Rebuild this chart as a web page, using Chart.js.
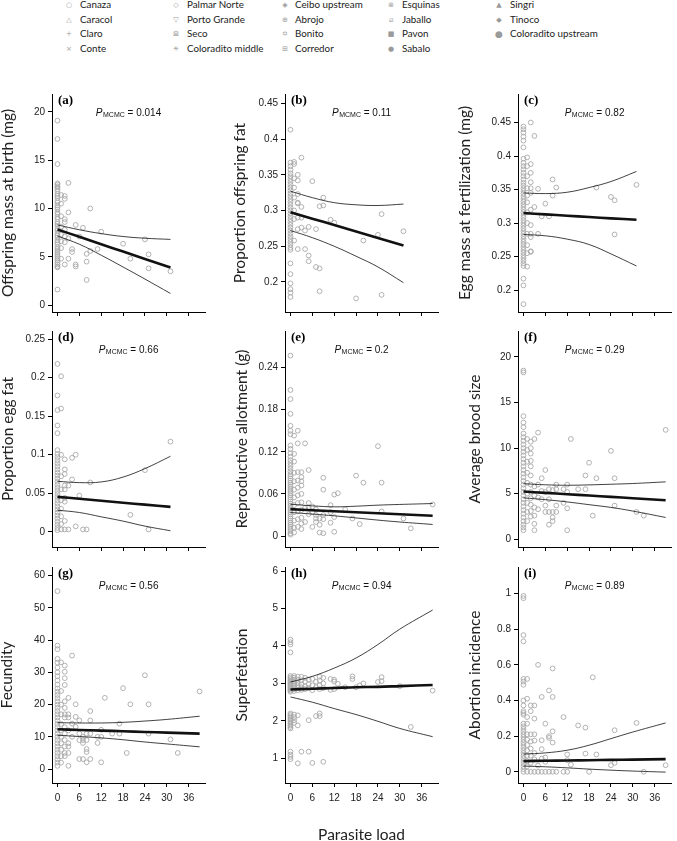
<!DOCTYPE html>
<html>
<head>
<meta charset="utf-8">
<script src="https://cdn.jsdelivr.net/npm/chart.js@4.4.1/dist/chart.umd.min.js"></script>
<style>
  html, body { margin: 0; padding: 0; background: #fff; overflow: hidden; width: 677px; height: 841px; }
  body { position: relative; }
  .sym { position: absolute; font-family: "DejaVu Sans"; font-size: 7px; color: #9a9a9a; line-height: 1; transform: translate(-50%, -50%); }
  .site { position: absolute; font-family: Lato, sans-serif; font-size: 9.8px; color: #222; line-height: 1; white-space: nowrap; transform: translateY(-50%); }
  canvas { position: absolute; }
</style>
</head>
<body>
<div id="legend"></div>
<script>
// legend: sampling sites
const sites = ["Canaza", "Caracol", "Claro", "Conte", "Palmar Norte", "Porto Grande", "Seco", "Coloradito middle",
  "Ceibo upstream", "Abrojo", "Bonito", "Corredor", "Esquinas", "Jaballo", "Pavon", "Sabalo",
  "Singri", "Tinoco", "Coloradito upstream"];
const siteSymbols = ["○", "△", "+", "×", "◇", "▽", "⊠", "✳\uFE0E", "◈", "⊕", "✡\uFE0E", "⊞", "⊗", "⧄", "■", "●", "▲", "◆", "●"];

// shared x axis (parasite load)
const loadTicks = [0, 6, 12, 18, 24, 30, 36];
const fitLoadShort = [0, 6, 12, 18, 24, 31];
const fitLoadLong = [0, 6, 12, 18, 24, 30, 39];

const panelTags = ["(a)", "(b)", "(c)", "(d)", "(e)", "(f)", "(g)", "(h)", "(i)"];
const pValues = ["0.014", "0.11", "0.82", "0.66", "0.2", "0.29", "0.56", "0.94", "0.89"];
const yTitles = ["Offspring mass at birth (mg)", "Proportion offspring fat", "Egg mass at fertilization (mg)",
  "Proportion egg fat", "Reproductive allotment (g)", "Average brood size",
  "Fecundity", "Superfetation", "Abortion incidence"];

// (a) offspring mass at birth
const aTicks = [0, 5, 10, 15, 20];
const aAt0 = [19.1, 17.2, 14.6, 12.6, 12.5, 12.3, 12.2, 12.0, 11.8, 11.5, 11.3, 11.1, 10.8, 10.6, 10.3, 10.1, 9.9, 9.6, 9.4, 9.1, 8.9, 8.6, 8.4, 8.2, 7.9, 7.7, 7.4, 7.2, 7.0, 6.7, 6.5, 6.3, 6.0, 5.8, 5.6, 5.4, 5.2, 5.0, 4.8, 4.6, 4.4, 4.2, 4.0, 3.9, 1.6];
const aPts = [[1, 11.4], [1, 10.5], [1, 9.2], [1, 8.1], [1, 7.3], [1, 6.6], [1, 5.9], [1, 4.8], [2, 11.3], [2, 11.0], [2, 8.9], [2, 8.6], [2, 7.8], [2, 7.1], [2, 6.5], [2, 4.2], [3, 12.65], [3, 9.6], [3, 6.9], [3, 4.8], [4, 5.8], [4, 5.5], [5, 8.3], [5, 4.2], [5, 4.0], [6, 7.1], [7, 8.0], [8, 5.3], [8, 4.5], [8, 2.6], [9, 10.0], [9, 5.6], [11, 5.8], [12, 7.6], [18, 6.35], [20, 4.8], [24, 6.8], [25, 5.25], [25, 3.8], [31, 3.5]];
const aMean = [7.83, 7.07, 6.30, 5.54, 4.78, 3.88];
const aUpper = [8.30, 7.80, 7.40, 7.10, 6.92, 6.80];
const aLower = [7.15, 6.30, 5.16, 3.94, 2.69, 1.20];

// (b) proportion offspring fat
const bTicks = [0.2, 0.25, 0.3, 0.35, 0.4, 0.45];
const bAt0 = [0.413, 0.367, 0.362, 0.357, 0.352, 0.348, 0.344, 0.340, 0.336, 0.332, 0.328, 0.324, 0.320, 0.316, 0.312, 0.308, 0.304, 0.300, 0.296, 0.292, 0.288, 0.284, 0.280, 0.276, 0.272, 0.268, 0.264, 0.260, 0.256, 0.252, 0.248, 0.245, 0.226, 0.211, 0.198, 0.190, 0.185, 0.179];
const bPts = [[1, 0.368], [1, 0.365], [1, 0.345], [1, 0.332], [1, 0.318], [1, 0.300], [1, 0.288], [1, 0.258], [2, 0.350], [2, 0.342], [2, 0.323], [2, 0.311], [2, 0.310], [2, 0.290], [2, 0.274], [2, 0.246], [3, 0.374], [3, 0.305], [3, 0.290], [3, 0.276], [4, 0.272], [4, 0.246], [5, 0.277], [5, 0.237], [5, 0.229], [6, 0.341], [7, 0.274], [7, 0.221], [8, 0.306], [8, 0.219], [8, 0.187], [9, 0.318], [9, 0.307], [11, 0.287], [12, 0.283], [18, 0.177], [20, 0.258], [24, 0.266], [25, 0.295], [25, 0.182], [31, 0.271]];
const bMean = [0.2976, 0.2886, 0.2796, 0.2706, 0.2616, 0.2510];
const bUpper = [0.327, 0.318, 0.311, 0.308, 0.307, 0.309];
const bLower = [0.272, 0.262, 0.250, 0.236, 0.221, 0.199];

// (c) egg mass at fertilization
const cTicks = [0.2, 0.25, 0.3, 0.35, 0.4, 0.45];
const cAt0 = [0.444, 0.440, 0.435, 0.429, 0.423, 0.413, 0.396, 0.390, 0.385, 0.380, 0.375, 0.370, 0.365, 0.360, 0.356, 0.352, 0.348, 0.344, 0.340, 0.336, 0.332, 0.328, 0.324, 0.320, 0.316, 0.312, 0.308, 0.304, 0.300, 0.296, 0.292, 0.288, 0.284, 0.280, 0.276, 0.272, 0.268, 0.264, 0.260, 0.256, 0.252, 0.248, 0.244, 0.240, 0.236, 0.217, 0.207, 0.179];
const cPts = [[1, 0.398], [1, 0.385], [1, 0.370], [1, 0.352], [1, 0.341], [1, 0.331], [1, 0.316], [1, 0.300], [1, 0.284], [1, 0.267], [1, 0.255], [1, 0.235], [2, 0.450], [2, 0.388], [2, 0.375], [2, 0.361], [2, 0.352], [2, 0.345], [2, 0.320], [2, 0.297], [2, 0.284], [2, 0.279], [2, 0.258], [2, 0.257], [3, 0.430], [3, 0.324], [4, 0.351], [4, 0.284], [5, 0.310], [6, 0.329], [7, 0.310], [8, 0.365], [8, 0.341], [9, 0.353], [20, 0.353], [24, 0.339], [25, 0.334], [25, 0.283], [31, 0.357]];
const cMean = [0.315, 0.313, 0.311, 0.309, 0.307, 0.305];
const cUpper = [0.345, 0.344, 0.346, 0.353, 0.362, 0.377];
const cLower = [0.283, 0.281, 0.276, 0.268, 0.254, 0.236];

// (d) proportion egg fat
const dTicks = [0, 0.05, 0.1, 0.15, 0.2, 0.25];
const dAt0 = [0.218, 0.177, 0.158, 0.138, 0.128, 0.106, 0.101, 0.097, 0.093, 0.089, 0.085, 0.081, 0.077, 0.073, 0.069, 0.065, 0.061, 0.057, 0.053, 0.049, 0.045, 0.041, 0.037, 0.033, 0.029, 0.025, 0.021, 0.017, 0.013, 0.009, 0.005, 0.002];
const dPts = [[1, 0.202], [1, 0.160], [1, 0.100], [1, 0.072], [1, 0.055], [1, 0.041], [1, 0.030], [1, 0.020], [1, 0.010], [1, 0.003], [2, 0.094], [2, 0.081], [2, 0.075], [2, 0.060], [2, 0.055], [2, 0.044], [2, 0.039], [2, 0.014], [2, 0.003], [3, 0.060], [3, 0.003], [4, 0.096], [4, 0.068], [5, 0.100], [5, 0.007], [6, 0.047], [7, 0.003], [8, 0.003], [9, 0.064], [20, 0.022], [24, 0.080], [25, 0.003], [31, 0.117]];
const dMean = [0.0453, 0.0428, 0.0402, 0.0377, 0.0352, 0.0323];
const dUpper = [0.0655, 0.0638, 0.0647, 0.0710, 0.0820, 0.0980];
const dLower = [0.0280, 0.0250, 0.0194, 0.0138, 0.0073, 0.0013];

// (e) reproductive allotment
const eTicks = [0, 0.06, 0.12, 0.18, 0.24];
const eAt0 = [0.257, 0.208, 0.195, 0.174, 0.157, 0.150, 0.145, 0.129, 0.124, 0.118, 0.113, 0.108, 0.104, 0.100, 0.096, 0.092, 0.088, 0.085, 0.082, 0.079, 0.076, 0.073, 0.070, 0.067, 0.064, 0.061, 0.058, 0.055, 0.052, 0.049, 0.046, 0.043, 0.040, 0.037, 0.034, 0.031, 0.028, 0.025, 0.022, 0.019, 0.016, 0.013, 0.010, 0.007, 0.004, 0.002];
const ePts = [[1, 0.143], [1, 0.117], [1, 0.106], [1, 0.090], [1, 0.078], [1, 0.066], [1, 0.055], [1, 0.044], [1, 0.034], [1, 0.022], [1, 0.012], [1, 0.005], [2, 0.150], [2, 0.132], [2, 0.091], [2, 0.079], [2, 0.069], [2, 0.058], [2, 0.047], [2, 0.035], [2, 0.024], [2, 0.013], [3, 0.091], [3, 0.084], [3, 0.078], [3, 0.072], [3, 0.060], [3, 0.048], [3, 0.037], [3, 0.026], [3, 0.018], [3, 0.010], [4, 0.132], [4, 0.040], [4, 0.020], [5, 0.094], [5, 0.047], [5, 0.041], [5, 0.031], [6, 0.042], [6, 0.034], [6, 0.013], [7, 0.038], [7, 0.030], [7, 0.025], [7, 0.020], [8, 0.025], [8, 0.016], [8, 0.005], [9, 0.083], [9, 0.066], [9, 0.030], [9, 0.024], [9, 0.004], [11, 0.044], [11, 0.034], [11, 0.019], [12, 0.059], [12, 0.027], [12, 0.006], [13, 0.061], [15, 0.038], [17, 0.025], [18, 0.086], [19, 0.017], [20, 0.076], [24, 0.128], [25, 0.076], [25, 0.035], [31, 0.025], [33, 0.011], [39, 0.045]];
const eMean = [0.0383, 0.0368, 0.0354, 0.0339, 0.0325, 0.0310, 0.0288];
const eUpper = [0.0453, 0.0430, 0.0416, 0.0425, 0.0440, 0.0450, 0.0463];
const eLower = [0.0335, 0.0313, 0.0288, 0.0258, 0.0227, 0.0200, 0.0165];

// (f) average brood size
const fTicks = [0, 5, 10, 15, 20];
const fAt0 = [18.5, 18.3, 13.5, 12.8, 12.3, 11.6, 11.2, 10.8, 10.4, 10.0, 9.6, 9.2, 8.8, 8.4, 8.0, 7.6, 7.2, 6.8, 6.4, 6.0, 5.6, 5.2, 4.8, 4.4, 4.0, 3.6, 3.2, 2.8, 2.4, 2.0, 1.6, 1.3, 1.0];
const fPts = [[1, 11.0], [1, 9.8], [1, 8.5], [1, 7.3], [1, 6.2], [1, 5.0], [1, 4.0], [1, 3.0], [1, 2.0], [2, 10.7], [2, 10.0], [2, 9.4], [2, 8.6], [2, 8.0], [2, 7.0], [2, 6.0], [2, 5.2], [2, 4.5], [2, 3.8], [2, 3.1], [2, 2.5], [3, 11.0], [3, 5.8], [3, 4.8], [3, 3.5], [3, 2.6], [3, 1.7], [3, 1.0], [4, 11.7], [4, 6.0], [4, 4.6], [4, 3.3], [5, 6.7], [5, 5.3], [5, 4.4], [6, 7.6], [6, 5.2], [6, 3.7], [6, 3.0], [7, 5.5], [7, 4.4], [7, 3.0], [7, 1.6], [8, 5.4], [8, 3.0], [8, 2.4], [8, 2.0], [9, 6.0], [9, 5.5], [9, 3.7], [9, 3.0], [11, 5.5], [11, 4.0], [12, 6.0], [12, 5.2], [12, 3.4], [12, 1.0], [13, 11.0], [15, 5.5], [17, 7.0], [17, 5.5], [18, 8.4], [19, 2.6], [20, 6.7], [24, 9.7], [25, 6.7], [25, 3.7], [31, 3.0], [33, 2.6], [39, 12.0]];
const fMean = [5.24, 5.09, 4.95, 4.80, 4.66, 4.51, 4.29];
const fUpper = [6.10, 5.98, 5.93, 5.97, 6.04, 6.12, 6.30];
const fLower = [4.55, 4.35, 4.10, 3.80, 3.50, 3.10, 2.40];

// (g) fecundity
const gTicks = [0, 10, 20, 30, 40, 50, 60];
const gAt0 = [55.2, 38.3, 37.2, 34.2, 33.0, 31.5, 30.0, 28.8, 27.5, 26.2, 25.0, 24.0, 23.0, 22.0, 21.0, 20.0, 19.0, 18.0, 17.0, 16.0, 15.0, 14.0, 13.0, 12.0, 11.0, 10.0, 9.0, 8.0, 7.0, 6.0, 5.0, 4.0, 3.0, 2.0, 1.0];
const gPts = [[1, 33.1], [1, 24.2], [1, 20.0], [1, 17.0], [1, 14.0], [1, 12.0], [1, 10.0], [1, 8.0], [1, 6.0], [1, 4.0], [1, 2.0], [2, 32.1], [2, 30.2], [2, 28.2], [2, 26.1], [2, 21.0], [2, 19.0], [2, 17.0], [2, 16.0], [2, 13.0], [2, 11.0], [2, 9.0], [2, 7.0], [2, 5.0], [2, 4.0], [3, 22.1], [3, 17.0], [3, 16.0], [3, 12.0], [3, 8.0], [3, 7.0], [3, 5.0], [3, 1.0], [4, 35.2], [4, 14.1], [4, 10.0], [5, 20.1], [5, 16.2], [5, 13.1], [6, 15.1], [6, 11.0], [6, 9.0], [6, 3.1], [7, 10.0], [7, 9.0], [7, 8.1], [7, 3.1], [8, 11.0], [8, 9.0], [8, 6.2], [8, 5.3], [8, 2.1], [9, 18.0], [9, 15.1], [9, 11.0], [9, 3.1], [11, 10.0], [11, 8.1], [12, 12.2], [12, 10.0], [12, 2.1], [13, 22.1], [15, 11.0], [17, 14.1], [17, 11.0], [18, 25.1], [19, 5.0], [20, 20.1], [24, 29.1], [25, 20.1], [25, 11.0], [31, 9.2], [33, 5.0], [39, 24.1]];
const gMean = [12.35, 12.14, 11.94, 11.73, 11.52, 11.31, 11.0];
const gUpper = [14.4, 14.3, 14.3, 14.5, 14.9, 15.4, 16.4];
const gLower = [10.5, 10.1, 9.67, 9.1, 8.4, 7.8, 6.9];

// (h) superfetation
const hTicks = [1, 2, 3, 4, 5, 6];
const hAt0 = [4.17, 4.10, 4.04, 3.83, 3.20, 3.16, 3.12, 3.08, 3.05, 3.02, 2.99, 2.96, 2.93, 2.90, 2.87, 2.84, 2.81, 2.78, 2.20, 2.16, 2.12, 2.08, 2.04, 2.00, 1.96, 1.92, 1.88, 1.84, 1.80, 1.18, 1.10, 1.04, 0.98];
const hPts = [[1, 3.20], [1, 3.15], [1, 3.10], [1, 3.05], [1, 3.00], [1, 2.95], [1, 2.90], [1, 2.85], [1, 2.80], [1, 2.17], [1, 2.10], [1, 2.02], [1, 1.95], [2, 3.18], [2, 3.10], [2, 3.02], [2, 2.95], [2, 2.88], [2, 2.82], [2, 2.15], [2, 1.88], [2, 0.87], [3, 3.18], [3, 3.08], [3, 2.98], [3, 2.90], [3, 2.83], [3, 1.18], [4, 3.15], [4, 3.05], [4, 2.92], [4, 2.85], [5, 3.10], [5, 2.98], [5, 2.88], [5, 2.02], [5, 1.18], [6, 3.12], [6, 2.95], [6, 2.82], [6, 0.88], [7, 3.05], [7, 2.90], [7, 2.13], [8, 3.18], [8, 3.08], [8, 2.95], [8, 2.85], [8, 2.20], [8, 2.13], [9, 3.15], [9, 3.00], [9, 2.88], [9, 0.91], [11, 3.12], [11, 2.83], [12, 3.10], [12, 3.05], [12, 2.85], [13, 2.99], [15, 2.90], [17, 3.19], [17, 3.12], [18, 2.90], [19, 2.95], [20, 3.00], [24, 3.04], [25, 3.17], [25, 3.06], [30, 2.93], [33, 1.84], [39, 2.81]];
const hMean = [2.84, 2.86, 2.88, 2.90, 2.91, 2.93, 2.96];
const hUpper = [3.04, 3.19, 3.41, 3.68, 4.04, 4.45, 4.96];
const hLower = [2.64, 2.50, 2.33, 2.17, 1.99, 1.80, 1.58];

// (i) abortion incidence
const iTicks = [0, 0.2, 0.4, 0.6, 0.8, 1];
const iAt0 = [0.987, 0.974, 0.767, 0.732, 0.521, 0.506, 0.488, 0.400, 0.372, 0.340, 0.330, 0.320, 0.270, 0.255, 0.240, 0.225, 0.210, 0.195, 0.180, 0.165, 0.150, 0.135, 0.120, 0.105, 0.090, 0.075, 0.060, 0.045, 0.030, 0.015, 0.0];
const iPts = [[1, 0.521], [1, 0.410], [1, 0.307], [1, 0.270], [1, 0.210], [1, 0.180], [1, 0.150], [1, 0.120], [1, 0.090], [1, 0.060], [1, 0.030], [1, 0.0], [2, 0.372], [2, 0.340], [2, 0.210], [2, 0.170], [2, 0.130], [2, 0.090], [2, 0.050], [2, 0.0], [3, 0.372], [3, 0.298], [3, 0.210], [3, 0.175], [3, 0.105], [3, 0.070], [3, 0.0], [4, 0.600], [4, 0.035], [4, 0.0], [5, 0.420], [5, 0.177], [5, 0.127], [5, 0.074], [5, 0.0], [6, 0.270], [6, 0.080], [6, 0.056], [6, 0.0], [7, 0.456], [7, 0.200], [7, 0.190], [7, 0.0], [8, 0.580], [8, 0.420], [8, 0.227], [8, 0.164], [8, 0.0], [9, 0.0], [11, 0.307], [11, 0.0], [12, 0.097], [12, 0.065], [12, 0.0], [13, 0.040], [15, 0.260], [17, 0.248], [17, 0.102], [18, 0.0], [19, 0.530], [20, 0.097], [24, 0.037], [25, 0.050], [25, 0.233], [31, 0.274], [33, 0.0], [39, 0.037]];
const iMean = [0.060, 0.062, 0.063, 0.065, 0.067, 0.068, 0.071];
const iUpper = [0.099, 0.106, 0.121, 0.149, 0.186, 0.223, 0.274];
const iLower = [0.032, 0.028, 0.022, 0.015, 0.009, 0.004, -0.002];

// ---- legend ----
const legendEl = document.getElementById("legend");
const symX = [69, 176, 285, 391, 499];
const textX = [80, 187, 295, 402, 510];
const rowY = [5, 19.5, 34, 48.8];
sites.forEach((name, i) => {
  const col = Math.floor(i / 4), row = i % 4;
  const s = document.createElement("span");
  s.className = "sym";
  s.textContent = siteSymbols[i];
  s.style.left = symX[col] + "px";
  s.style.top = rowY[row] + "px";
  if (name === "Coloradito upstream") s.style.fontSize = "9px";
  legendEl.appendChild(s);
  const t = document.createElement("span");
  t.className = "site";
  t.textContent = name;
  t.style.left = textX[col] + "px";
  t.style.top = rowY[row] + "px";
  legendEl.appendChild(t);
});

// ---- panels ----
const panels = [
  { at0: aAt0, pts: aPts, fit: fitLoadShort, mean: aMean, upper: aUpper, lower: aLower, ticks: aTicks, min: -0.72, max: 21.86 },
  { at0: bAt0, pts: bPts, fit: fitLoadShort, mean: bMean, upper: bUpper, lower: bLower, ticks: bTicks, min: 0.158, max: 0.463 },
  { at0: cAt0, pts: cPts, fit: fitLoadShort, mean: cMean, upper: cUpper, lower: cLower, ticks: cTicks, min: 0.1673, max: 0.4926 },
  { at0: dAt0, pts: dPts, fit: fitLoadShort, mean: dMean, upper: dUpper, lower: dLower, ticks: dTicks, min: -0.0198, max: 0.2607 },
  { at0: eAt0, pts: ePts, fit: fitLoadLong, mean: eMean, upper: eUpper, lower: eLower, ticks: eTicks, min: -0.0156, max: 0.292 },
  { at0: fAt0, pts: fPts, fit: fitLoadLong, mean: fMean, upper: fUpper, lower: fLower, ticks: fTicks, min: -0.84, max: 22.84 },
  { at0: gAt0, pts: gPts, fit: fitLoadLong, mean: gMean, upper: gUpper, lower: gLower, ticks: gTicks, min: -4.32, max: 62.69 },
  { at0: hAt0, pts: hPts, fit: fitLoadLong, mean: hMean, upper: hUpper, lower: hLower, ticks: hTicks, min: 0.344, max: 6.108 },
  { at0: iAt0, pts: iPts, fit: fitLoadLong, mean: iMean, upper: iUpper, lower: iLower, ticks: iTicks, min: -0.063, max: 1.149 }
];

const cols = [{ left: -10, yw: 62 }, { left: 215, yw: 70 }, { left: 440, yw: 78 }];
const rows = [{ top: 85, h: 237, xh: 10 }, { top: 322, h: 235, xh: 10 }, { top: 558, h: 290, xh: 65 }];
const yTitlePad = [8.7, 15.2, 15.7, 8.7, 17.2, 25.7, 7.7, 17.2, 25.7];
const PLOT_W = 158;

Chart.defaults.font.family = '"Liberation Sans", Arial, sans-serif';
Chart.defaults.font.size = 10;
Chart.defaults.color = "#222";

// panel letter + P_MCMC text
const annotate = {
  id: "annotate",
  afterDraw(chart, args, opts) {
    const { ctx, chartArea: ca } = chart;
    ctx.save();
    ctx.fillStyle = "#000";
    ctx.textBaseline = "middle";
    ctx.textAlign = "left";
    ctx.font = 'bold 13px "Liberation Serif"';
    ctx.fillText(opts.tag, ca.left + 6, ca.top + 7);

    const big = '10px "Liberation Sans"';
    const ital = 'italic 10px "Liberation Sans"';
    const small = '7px "Liberation Sans"';
    const eq = " = " + opts.p;
    ctx.font = ital; const w1 = ctx.measureText("P").width + 0.5;
    ctx.font = small; const w2 = ctx.measureText("MCMC").width;
    ctx.font = big; const w3 = ctx.measureText(eq).width;
    let x = (ca.left + ca.right) / 2 - (w1 + w2 + w3) / 2;
    const y = ca.top + 19;
    ctx.fillStyle = "#111";
    ctx.font = ital; ctx.fillText("P", x, y); x += w1;
    ctx.font = small; ctx.fillText("MCMC", x, y + 2.5); x += w2;
    ctx.font = big; ctx.fillText(eq, x, y);
    ctx.restore();
  }
};

const fmt = v => String(+(+v).toFixed(4));

panels.forEach((p, k) => {
  const col = cols[k % 3], row = rows[Math.floor(k / 3)];
  const bottomRow = k >= 6;
  const w = col.yw + PLOT_W;
  const canvas = document.createElement("canvas");
  canvas.width = w;
  canvas.height = row.h;
  canvas.style.left = col.left + "px";
  canvas.style.top = row.top + "px";
  canvas.style.width = w + "px";
  canvas.style.height = row.h + "px";
  document.body.appendChild(canvas);

  const points = p.at0.map(v => ({ x: 0, y: v })).concat(p.pts.map(([x, y]) => ({ x, y })));
  const curve = vals => p.fit.map((x, j) => ({ x, y: vals[j] }));
  const lineSet = (vals, width) => ({
    data: curve(vals), showLine: true, borderColor: "#111", borderWidth: width,
    pointRadius: 0, tension: 0.4, fill: false
  });

  new Chart(canvas, {
    type: "scatter",
    data: {
      datasets: [
        lineSet(p.mean, 2.6),
        lineSet(p.upper, 0.8),
        lineSet(p.lower, 0.8),
        {
          data: points, pointStyle: "circle", pointRadius: 2.4, borderWidth: 0.9,
          borderColor: "#a9a9a9", backgroundColor: "rgba(0,0,0,0)"
        }
      ]
    },
    options: {
      responsive: false,
      animation: false,
      devicePixelRatio: 1,
      layout: { padding: { top: 8, left: 0, right: 0, bottom: 0 } },
      plugins: {
        legend: { display: false },
        tooltip: { enabled: false },
        annotate: { tag: panelTags[k], p: pValues[k] }
      },
      scales: {
        x: {
          type: "linear", min: -1.5, max: 40.5,
          afterBuildTicks: s => { s.ticks = loadTicks.map(v => ({ value: v })); },
          afterFit: s => { s.height = row.xh; },
          grid: { display: true, drawOnChartArea: false, drawTicks: true, tickLength: 4, tickColor: "#000" },
          border: { display: true, color: "#000", width: 1 },
          ticks: { display: bottomRow, padding: 5, autoSkip: false, maxRotation: 0, callback: fmt },
          title: {
            display: k === 7, text: "Parasite load",
            font: { family: "Lato", size: 15.5 }, color: "#222",
            padding: { top: 0, bottom: 4 }
          }
        },
        y: {
          type: "linear", min: p.min, max: p.max,
          afterBuildTicks: s => { s.ticks = p.ticks.map(v => ({ value: v })); },
          afterFit: s => { s.width = col.yw; },
          grid: { display: true, drawOnChartArea: false, drawTicks: true, tickLength: 4, tickColor: "#000" },
          border: { display: true, color: "#000", width: 1 },
          ticks: { padding: 3, autoSkip: false, callback: fmt },
          title: {
            display: true, text: yTitles[k],
            font: { family: "Lato", size: 15.5 }, color: "#222",
            padding: { top: yTitlePad[k], bottom: 0 }
          }
        }
      }
    },
    plugins: [annotate]
  });
});
</script>
</body>
</html>
